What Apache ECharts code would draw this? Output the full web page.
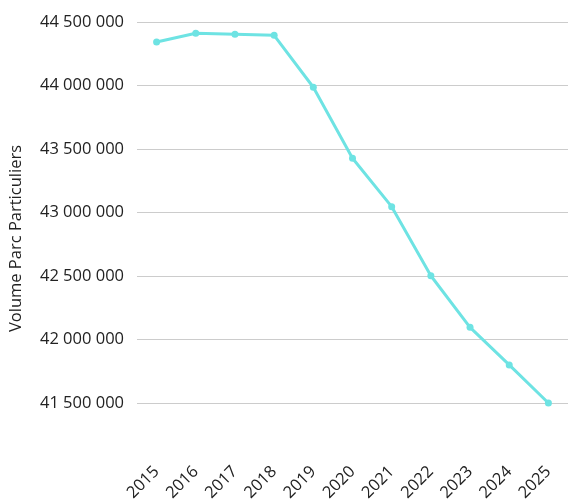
<!DOCTYPE html>
<html>
<head>
<meta charset="utf-8">
<script src="https://cdn.jsdelivr.net/npm/echarts@6/dist/echarts.min.js"></script>
<style>html,body{margin:0;padding:0;background:#fff}#c{width:568px;height:501px}</style>
</head>
<body>
<div id="c"></div>
<script>
var years = ['2015','2016','2017','2018','2019','2020','2021','2022','2023','2024','2025'];
var volumes = [44342000, 44411000, 44403000, 44395000, 43986000, 43427000, 43046000, 42502000, 42096000, 41800000, 41500000];
var axisName = 'Volume Parc Particuliers';

function fmt(v){ return String(v).replace(/\B(?=(\d{3})+(?!\d))/g, ' '); }

var chart = echarts.init(document.getElementById('c'));
chart.setOption({
  animation: false,
  grid: {left: 137, right: 0, top: 22, bottom: 98, containLabel: false, outerBoundsMode: 'none'},
  xAxis: {
    type: 'category',
    data: years,
    boundaryGap: true,
    axisLine: {show: false},
    axisTick: {show: false},
    axisLabel: {rotate: 45, margin: 66, fontFamily: 'Open Sans', fontSize: 16.5, color: '#222', interval: 0, padding: [0, 0, 0, 0]}
  },
  yAxis: {
    type: 'value',
    min: 41500000,
    max: 44500000,
    interval: 500000,
    name: axisName,
    nameLocation: 'middle',
    nameGap: 112,
    nameTextStyle: {fontFamily: 'Open Sans', fontSize: 16.5, color: '#222', padding: [0, 52, 0, 0]},
    axisLine: {show: false},
    axisTick: {show: false},
    axisLabel: {fontFamily: 'Open Sans', fontSize: 16.5, color: '#222', margin: 13, formatter: fmt},
    splitLine: {lineStyle: {color: '#cccccc', width: 1}}
  },
  series: [{
    type: 'line',
    data: volumes,
    symbol: 'circle',
    symbolSize: 7,
    lineStyle: {color: '#6ee3e3', width: 3},
    itemStyle: {color: '#6ee3e3'}
  }]
});
</script>
</body>
</html>
